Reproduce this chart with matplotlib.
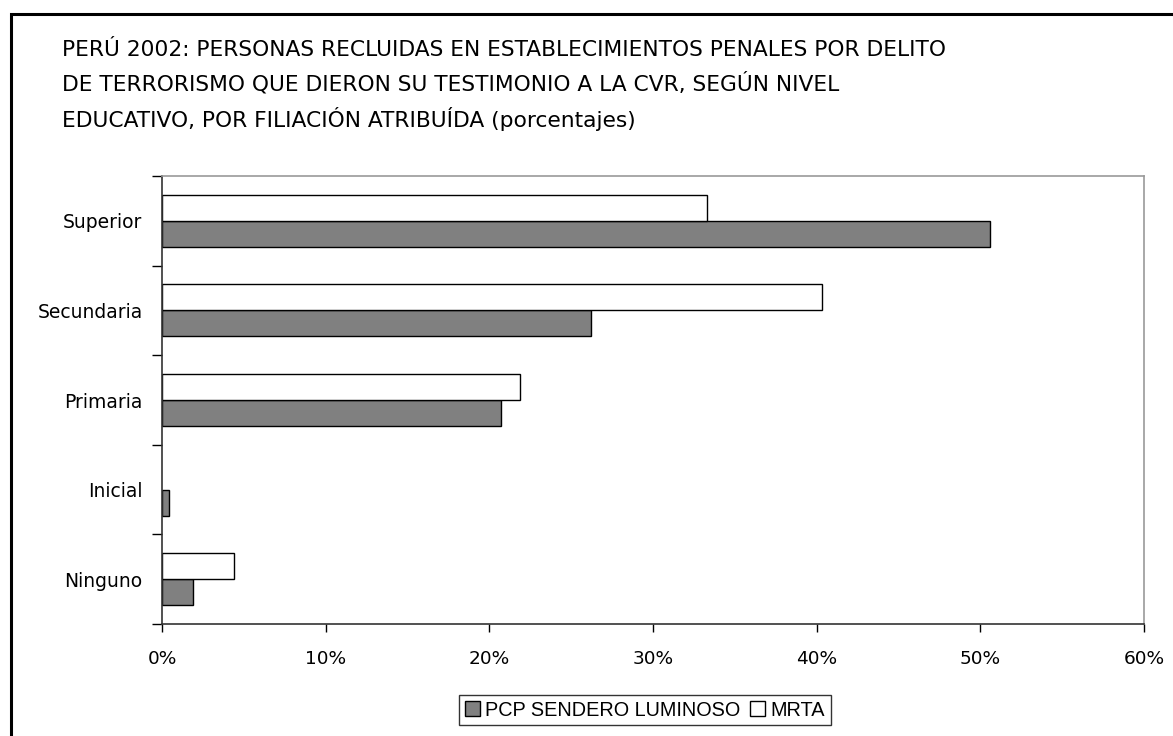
import matplotlib
matplotlib.use("Agg")
import matplotlib.pyplot as plt
from matplotlib.patches import Rectangle, Patch
import numpy as np

categories = ["Ninguno", "Inicial", "Primaria", "Secundaria", "Superior"]
sendero = [1.9, 0.45, 20.7, 26.2, 50.6]
mrta = [4.4, 0.0, 21.9, 40.3, 33.3]
xticks = [0, 10, 20, 30, 40, 50, 60]
title = ("PERÚ 2002: PERSONAS RECLUIDAS EN ESTABLECIMIENTOS PENALES POR DELITO\n"
         "DE TERRORISMO QUE DIERON SU TESTIMONIO A LA CVR, SEGÚN NIVEL\n"
         "EDUCATIVO, POR FILIACIÓN ATRIBUÍDA (porcentajes)")

legend_font = ["Liberation Sans", "DejaVu Sans"]
plt.rcParams["font.family"] = ["DejaVu Sans"]

W, H = 1173, 736
fig = plt.figure(figsize=(W / 100, H / 100), dpi=100)

# outer chart border (runs off the image at right and bottom)
fig.patches.append(Rectangle((11 / W, -0.2), 1.2, 1.2 - 14 / H, transform=fig.transFigure,
                             fill=False, edgecolor="black", linewidth=2.2))

ax = fig.add_axes([162 / W, 1 - 624 / H, (1144 - 162) / W, (624 - 176) / H])

y = np.arange(len(categories))
h = 0.29
ax.barh(y - h / 2, sendero, height=h, color="#808080", edgecolor="black", linewidth=1.0,
        label="PCP SENDERO LUMINOSO")
ax.barh(y + h / 2, [v if v > 0 else np.nan for v in mrta], height=h, color="white",
        edgecolor="black", linewidth=1.0, label="MRTA")

ax.set_xlim(0, 60)
ax.set_ylim(-0.5, len(categories) - 0.5)
ax.set_xticks(xticks)
ax.set_xticklabels([f"{t}%" for t in xticks], fontsize=13.3)
ax.set_yticks(np.arange(-0.5, len(categories), 1.0))
ax.set_yticklabels([])
ax.set_yticks(y, minor=True)
ax.set_yticklabels(categories, minor=True, fontsize=13.5)
ax.tick_params(axis="y", which="major", length=7, width=1, direction="out")
ax.tick_params(axis="y", which="minor", length=0, pad=14)
ax.tick_params(axis="x", length=6, width=1, direction="out", pad=13)

for s in ["top", "right"]:
    ax.spines[s].set_color("#999999")
    ax.spines[s].set_linewidth(1.2)
for s in ["left", "bottom"]:
    ax.spines[s].set_color("#333333")
    ax.spines[s].set_linewidth(1.2)

fig.text(62 / W, 1 - 40 / H, title, ha="left", va="top", fontsize=15.7,
         linespacing=1.63)

handles = [Patch(facecolor="#808080", edgecolor="black", label="PCP SENDERO LUMINOSO"),
           Patch(facecolor="white", edgecolor="black", label="MRTA")]
leg = fig.legend(handles=handles, loc="center", bbox_to_anchor=(645 / W, 1 - 710 / H),
                 ncol=2, frameon=True, fancybox=False, prop={"family": legend_font, "size": 14.3},
                 handlelength=0.75, handleheight=0.75, handletextpad=0.25, columnspacing=0.5,
                 borderpad=0.3, borderaxespad=0)
leg.get_frame().set_edgecolor("black")
leg.get_frame().set_linewidth(1.0)

fig.savefig("out.png", dpi=100)
